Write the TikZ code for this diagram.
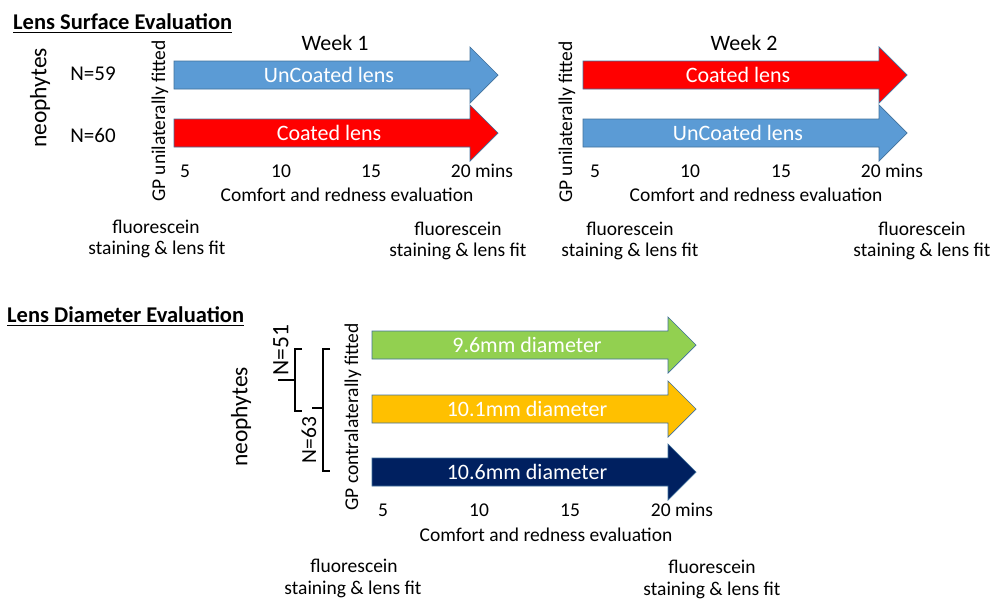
\documentclass[tikz,border=0pt]{standalone}
\usepackage{fontspec}
\setmainfont{Carlito}
\definecolor{uncoated}{HTML}{5B9BD5}
\definecolor{coated}{HTML}{FF0000}
\definecolor{smalld}{HTML}{92D050}
\definecolor{midd}{HTML}{FFC000}
\definecolor{larged}{HTML}{002060}
\definecolor{arrowedge}{HTML}{41719C}

% block arrow: name, left x, centre y, fill, label
\newcommand{\timearrow}[5]{%
  \filldraw[fill=#4,draw=arrowedge,line width=0.7pt]
    (#2,#3-14) -- (#2+296,#3-14) -- (#2+296,#3-28) -- (#2+324,#3)
    -- (#2+296,#3+28) -- (#2+296,#3+14) -- (#2,#3+14) -- cycle;
  \node[lbl] (#1) at (#2+155,#3) {#5};}

\begin{document}
\begin{tikzpicture}[x=1pt,y=-1pt,
  txt/.style={inner sep=0pt,anchor=base,font=\fontsize{19.5}{22}\selectfont},
  lbl/.style={inner sep=0pt,text=white,font=\fontsize{22}{24}\selectfont},
  heading/.style={inner sep=0pt,anchor=base west,font=\fontsize{22.5}{26}\selectfont\bfseries},
  vtxt/.style={inner sep=0pt,rotate=90,font=\fontsize{19.5}{22}\selectfont},
  group/.style={inner sep=0pt,font=\fontsize{23.5}{26}\selectfont},
  week/.style={txt,font=\fontsize{22}{24}\selectfont},
  bracket/.style={line width=1.6pt}
]
  \useasboundingbox (0,0) rectangle (995,600);

  % lens surface evaluation
  \node[heading] (surf) at (13,29) {Lens Surface Evaluation};
  \draw[line width=1.3pt] ([yshift=-3.5pt]surf.base west) -- ([yshift=-3.5pt]surf.base east);
  \node[group,rotate=90] (neo1) at (40,98) {neophytes};
  \node[txt,font=\fontsize{21}{24}\selectfont] (n59) at (93,80) {N=59};
  \node[txt,font=\fontsize{21}{24}\selectfont] (n60) at (93,142) {N=60};

  % week 1
  \node[vtxt] (gp1) at (160,121) {GP unilaterally fitted};
  \node[week] (wk1) at (335,50) {Week 1};
  \timearrow{w1a}{174}{75}{uncoated}{UnCoated lens}
  \timearrow{w1b}{174}{133}{coated}{Coated lens}
  \node[txt] (w1t5) at (185,177) {5};
  \node[txt] (w1t10) at (281,177) {10};
  \node[txt] (w1t15) at (371,177) {15};
  \node[txt] (w1t20) at (482,177) {20 mins};
  \node[txt] (w1cr) at (347,201) {Comfort and redness evaluation};
  \node[txt] (w1f0) at (156,233) {fluorescein};
  \node[txt] (w1s0) at (157,254) {staining \& lens fit};
  \node[txt] (w1f1) at (458,235) {fluorescein};
  \node[txt] (w1s1) at (458,256) {staining \& lens fit};

  % week 2
  \node[vtxt] (gp2) at (567,122) {GP unilaterally fitted};
  \node[week] (wk2) at (744,50) {Week 2};
  \timearrow{w2a}{583}{75}{coated}{Coated lens}
  \timearrow{w2b}{583}{133}{uncoated}{UnCoated lens}
  \node[txt] (w2t5) at (595,177) {5};
  \node[txt] (w2t10) at (690,177) {10};
  \node[txt] (w2t15) at (781,177) {15};
  \node[txt] (w2t20) at (892,177) {20 mins};
  \node[txt] (w2cr) at (756,201) {Comfort and redness evaluation};
  \node[txt] (w2f0) at (630,235) {fluorescein};
  \node[txt] (w2s0) at (630,256) {staining \& lens fit};
  \node[txt] (w2f1) at (922,235) {fluorescein};
  \node[txt] (w2s1) at (922,256) {staining \& lens fit};

  % lens diameter evaluation
  \node[heading] (diam) at (7,322) {Lens Diameter Evaluation};
  \draw[line width=1.3pt] ([yshift=-3.5pt]diam.base west) -- ([yshift=-3.5pt]diam.base east);
  \node[group,rotate=90] (neo2) at (241,417) {neophytes};
  \node[group,rotate=90,font=\fontsize{23.5}{24}\selectfont] (n51) at (281,350) {N=51};
  \node[group,rotate=90,font=\fontsize{21.5}{24}\selectfont] (n63) at (309,440) {N=63};
  \draw[bracket] (302,349) -- (295,349) -- (295,411) -- (302,411);
  \draw[bracket] (295,380) -- (278,380);
  \draw[bracket] (330,349) -- (323,349) -- (323,471) -- (330,471);
  \draw[bracket] (323,408) -- (312,408);
  \node[vtxt] (gp3) at (353,417) {GP contralaterally fitted};
  \timearrow{d96}{372}{345}{smalld}{9.6mm diameter}
  \timearrow{d101}{372}{409}{midd}{10.1mm diameter}
  \timearrow{d106}{372}{472}{larged}{10.6mm diameter}
  \node[txt] (d3t5) at (383,516) {5};
  \node[txt] (d3t10) at (479,516) {10};
  \node[txt] (d3t15) at (570,516) {15};
  \node[txt] (d3t20) at (682,516) {20 mins};
  \node[txt] (d3cr) at (546,541) {Comfort and redness evaluation};
  \node[txt] (d3f0) at (354,572) {fluorescein};
  \node[txt] (d3s0) at (353,594) {staining \& lens fit};
  \node[txt] (d3f1) at (712,573) {fluorescein};
  \node[txt] (d3s1) at (712,595) {staining \& lens fit};
\end{tikzpicture}
\end{document}
